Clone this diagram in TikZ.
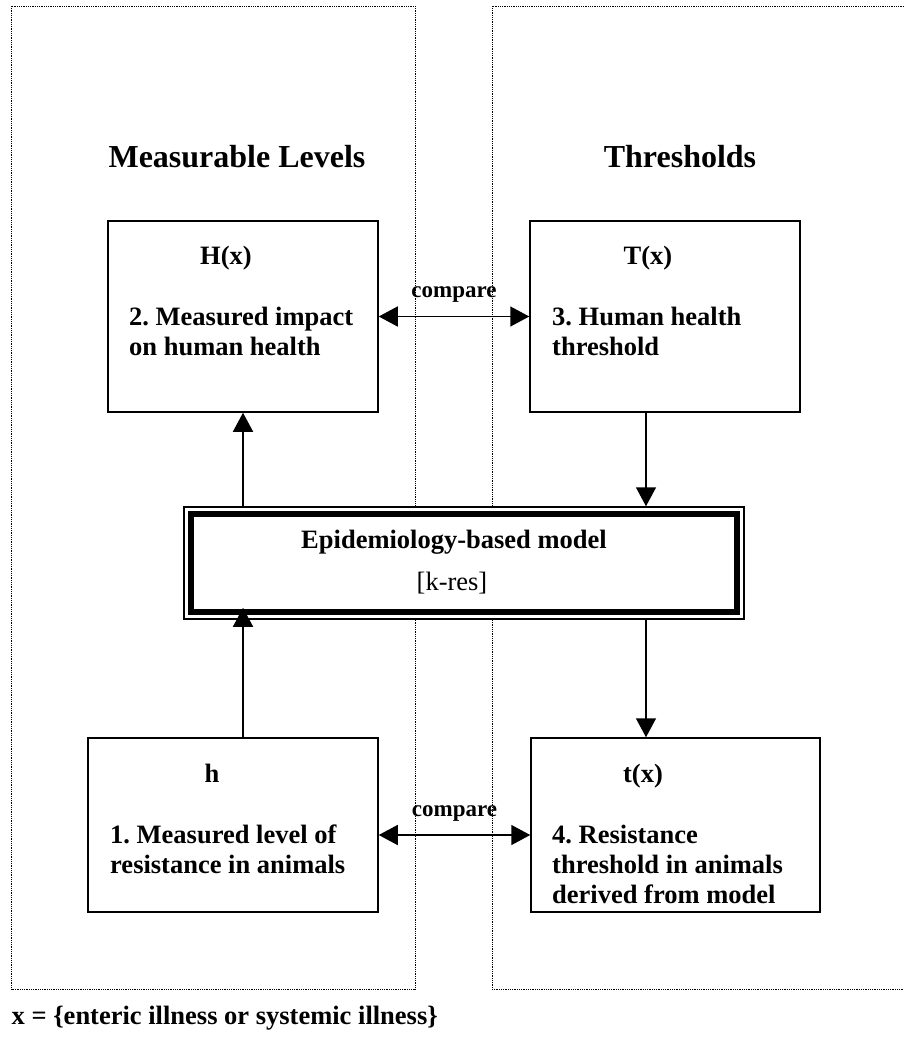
\documentclass[tikz,border=0pt]{standalone}
\usepackage{fontspec}
\setmainfont{Liberation Serif}
\usetikzlibrary{arrows.meta}
\frenchspacing

\tikzset{
  panel/.style={densely dotted, line width=0.8pt},
  box/.style={draw, line width=1.5pt, inner sep=0pt},
  txt/.style={inner sep=0pt, font=\bfseries\fontsize{26.5}{30}\selectfont},
  lines/.style={txt, align=left, anchor=north west},
  head/.style={inner sep=0pt, anchor=base, font=\bfseries\fontsize{32}{36}\selectfont},
  arr/.style={line width=1.5pt, -{Triangle[length=19pt,width=20pt]}},
  cmp/.style={line width=1.5pt, {Triangle[length=19pt,width=20pt]}-{Triangle[length=19pt,width=20pt]}},
  cmplabel/.style={inner sep=0pt, font=\bfseries\fontsize{23}{26}\selectfont}
}

\begin{document}
\begin{tikzpicture}[x=1pt, y=-1pt]
  \useasboundingbox (0,0) rectangle (904,1047);

  % dotted panels
  \draw[panel] (11.5,6) rectangle (415,989);
  \draw[panel] (904,6) -- (492,6) -- (492,989) -- (904,989);

  \node[head] (lefthead) at (237,167) {Measurable Levels};
  \node[head] (righthead) at (680,167) {Thresholds};

  % boxes
  \node[box, minimum width=270pt, minimum height=191pt] (Hbox) at (243,316.5) {};
  \node[box, minimum width=270pt, minimum height=191pt] (Tbox) at (665,316.5) {};
  \node[box, minimum width=290pt, minimum height=174pt] (hbox) at (233,825) {};
  \node[box, minimum width=289pt, minimum height=174pt] (tbox) at (675.5,825) {};

  \node[txt, anchor=base] (Hlabel) at (226,264) {H(x)};
  \node[lines] (Htext) at (129,307) {2. Measured impact\\on human health};
  \node[txt, anchor=base] (Tlabel) at (648,264) {T(x)};
  \node[lines] (Ttext) at (552,307) {3. Human health\\threshold};
  \node[txt, anchor=base] (hlabel) at (212,782) {h};
  \node[lines] (htext) at (110,825) {1. Measured level of\\resistance in animals};
  \node[txt, anchor=base] (tlabel) at (643,782) {t(x)};
  \node[lines] (ttext) at (552,825) {4. Resistance\\threshold in animals\\derived from model};

  % model box, thin outer and thick inner frame
  \node[draw, fill=white, line width=1.5pt, inner sep=0pt, minimum width=560pt, minimum height=112pt] (mod) at (464,563) {};
  \draw[line width=6pt] ([shift={(8,8)}]mod.north west) rectangle ([shift={(-8,-8)}]mod.south east);
  \node[txt, anchor=base] (modname) at (454,548) {Epidemiology-based model};
  \node[txt, anchor=base, font=\mdseries\fontsize{26.5}{30}\selectfont] (modkey) at (452,590) {[k-res]};

  % connectors
  \coordinate (rd) at (646,0);
  \draw[arr, shorten >=-12pt] (hbox.north -| Hbox.south) -- (Hbox.south |- mod.south);
  \draw[arr] (Hbox.south |- mod.north) -- (Hbox.south);
  \draw[arr] (Tbox.south -| rd) -- (mod.north -| rd);
  \draw[arr] (mod.south -| rd) -- (tbox.north -| rd);

  \draw[cmp] (Hbox.east) -- (Tbox.west) node[cmplabel, midway, above=13pt] (cmptop) {compare};
  \draw[cmp] ([yshift=-10pt]hbox.east) -- ([yshift=-10pt]tbox.west) node[cmplabel, midway, above=13pt] (cmpbot) {compare};

  \node[txt, anchor=base west] (footer) at (11.5,1024) {x = \{enteric illness or systemic illness\}};
\end{tikzpicture}
\end{document}
